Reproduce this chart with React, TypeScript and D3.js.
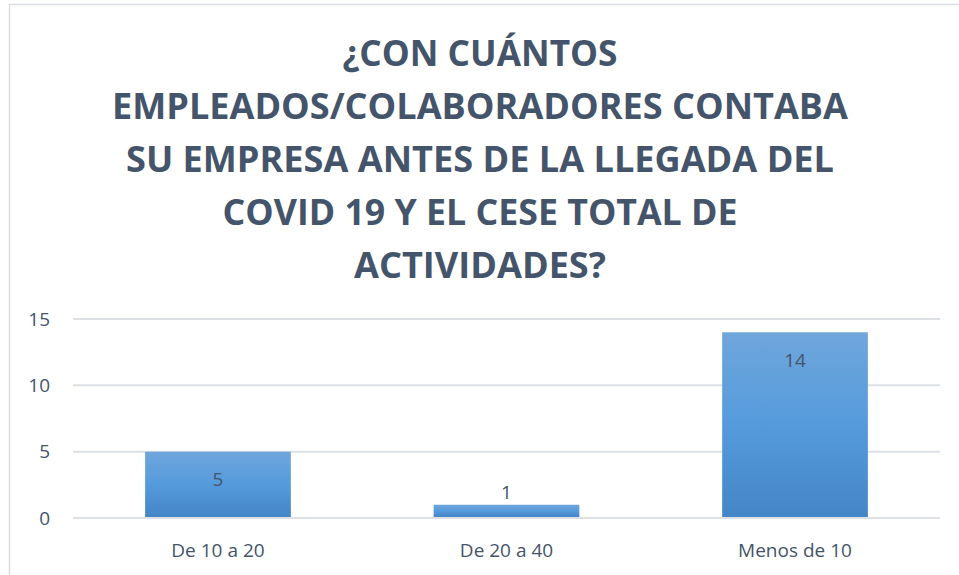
import React from "react";
import * as d3 from "d3";

const categories = ["De 10 a 20", "De 20 a 40", "Menos de 10"];
const values = [5, 1, 14];
const yTicks = [0, 5, 10, 15];
const titleLines = [
  "¿CON CUÁNTOS",
  "EMPLEADOS/COLABORADORES CONTABA",
  "SU EMPRESA ANTES DE LA LLEGADA DEL",
  "COVID 19 Y EL CESE TOTAL DE",
  "ACTIVIDADES?",
];
const titleWidths = [275, 736, 708, 515, 252];

const W = 959;
const H = 575;
const plot = { left: 73, right: 940, top: 319, bottom: 518 };
const textColor = "#44546a";

export default function App() {
  const x = d3
    .scaleBand<string>()
    .domain(categories)
    .range([plot.left, plot.right])
    .paddingInner(0.495)
    .paddingOuter(0.25);
  const y = d3.scaleLinear().domain([0, 15]).range([plot.bottom, plot.top]);

  return (
    <svg
      width={W}
      height={H}
      style={{ position: "absolute", left: 0, top: 0, background: "#fff" }}
      fontFamily="'Open Sans', sans-serif"
    >
      <defs>
        <linearGradient id="barGrad" x1="0" y1="0" x2="0" y2="1">
          <stop offset="0%" stopColor="#6fa6dc" />
          <stop offset="50%" stopColor="#559bdc" />
          <stop offset="100%" stopColor="#4485c6" />
        </linearGradient>
      </defs>
      <rect x={9.5} y={4.5} width={W + 10} height={H + 10} fill="#fff" stroke="#d9dde3" strokeWidth={1.5} />
      {titleLines.map((t, i) => (
        <text
          key={i}
          x={480}
          y={66 + i * 53}
          textAnchor="middle"
          fontWeight={700}
          fontSize={36}
          fill={textColor}
          textLength={titleWidths[i]}
          lengthAdjust="spacingAndGlyphs"
        >
          {t}
        </text>
      ))}
      {yTicks.map((t) => (
        <g key={t}>
          <line x1={plot.left} x2={plot.right} y1={y(t)} y2={y(t)} stroke="#dde1e6" strokeWidth={2} />
          <text x={50} y={y(t)} dy="0.35em" textAnchor="end" fontSize={19} fill={textColor}>
            {t}
          </text>
        </g>
      ))}
      {categories.map((c, i) => {
        const v = values[i];
        const top = y(v);
        const h = y(0) - top;
        const inside = h > 40;
        return (
          <g key={c}>
            <rect x={x(c)} y={top} width={x.bandwidth()} height={h - 1} fill="url(#barGrad)" />
            <text
              x={x(c)! + x.bandwidth() / 2}
              y={inside ? top + 28 : top - 12}
              dy="0.35em"
              textAnchor="middle"
              fontSize={19}
              fill={textColor}
            >
              {v}
            </text>
            <text
              x={x(c)! + x.bandwidth() / 2}
              y={550}
              dy="0.35em"
              textAnchor="middle"
              fontSize={19}
              fill={textColor}
            >
              {c}
            </text>
          </g>
        );
      })}
    </svg>
  );
}
